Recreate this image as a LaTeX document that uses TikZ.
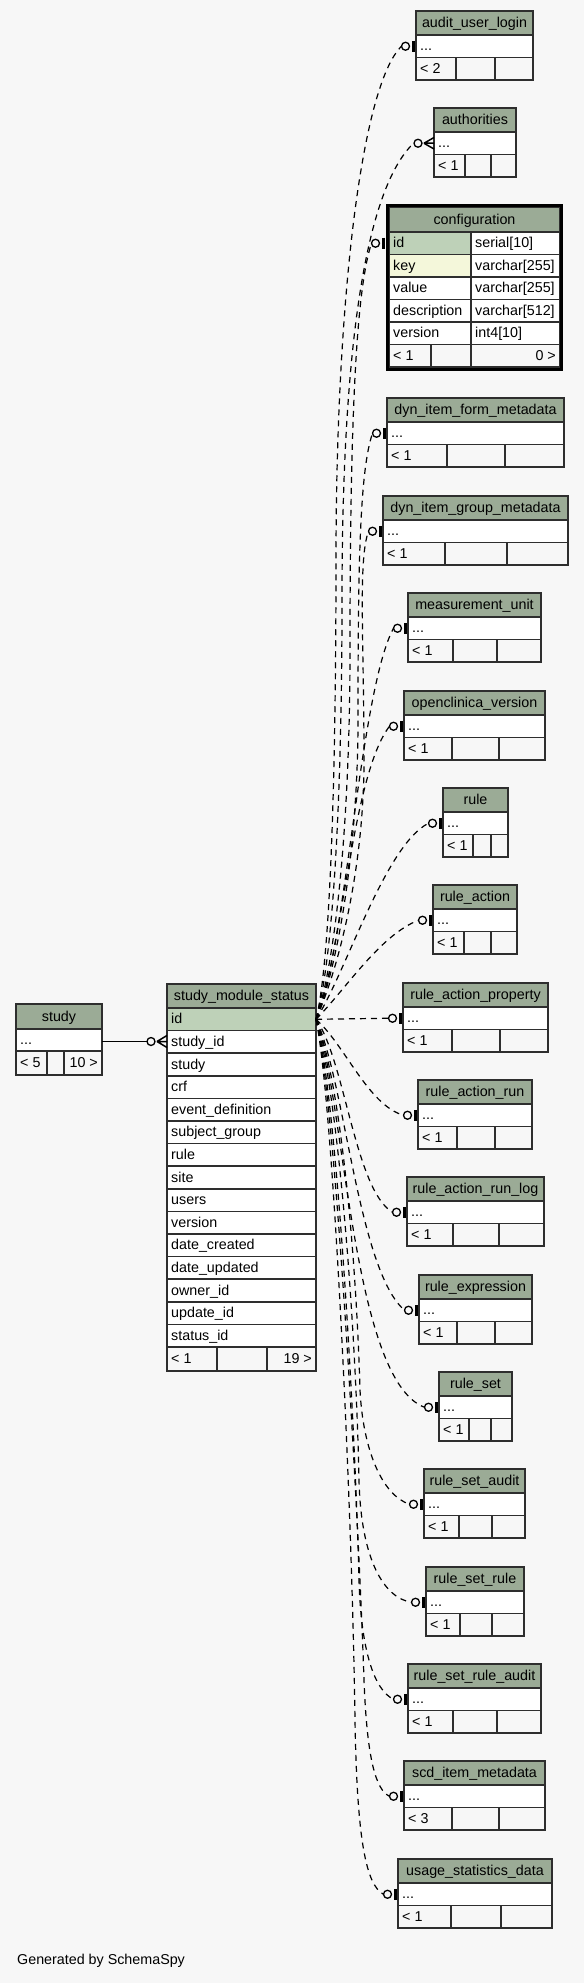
\documentclass[tikz,border=0pt]{standalone}
\usepackage{fontspec}
\setmainfont{Liberation Sans}
\usetikzlibrary{calc}
\definecolor{bg}{HTML}{F7F7F7}
\definecolor{hdr}{HTML}{9BAB96}
\definecolor{pk}{HTML}{BED1B8}
\definecolor{idx}{HTML}{F4F7DA}
\definecolor{bord}{HTML}{2E2E2E}
\tikzset{
 tline/.style={draw=bord, line width=1.6},
 txt/.style={font=\fontsize{14.3}{16}\selectfont, inner sep=0, text=black},
 rel/.style={draw=black, dash pattern=on 6pt off 5pt, line width=1.2},
 solidrel/.style={draw=black, line width=1.3},
 ocirc/.style={draw=black, fill=bg, line width=1.3},
 teebar/.style={line width=3, draw=black},
 crowline/.style={line width=1.5, draw=black},
}
% simple collapsed table: id, title, L, T, R, d1, d2, footer text
\newcommand\stbl[8]{%
 \pgfmathsetmacro\tHB{#4+24}\pgfmathsetmacro\tRB{#4+46.5}\pgfmathsetmacro\tFB{#4+69}%
 \pgfmathsetmacro\tHM{#4+12}\pgfmathsetmacro\tRM{#4+35.25}\pgfmathsetmacro\tFM{#4+57.75}%
 \pgfmathsetmacro\tC{(#3+#5)/2}%
 \fill[hdr] (#3,#4) rectangle (#5,\tHB);
 \fill[white] (#3,\tHB) rectangle (#5,\tRB);
 \draw[tline] (#3,#4) rectangle (#5,\tFB);
 \draw[tline] (#3,\tHB) -- (#5,\tHB) (#3,\tRB) -- (#5,\tRB) (#6,\tRB) -- (#6,\tFB) (#7,\tRB) -- (#7,\tFB);
 \node[txt, anchor=base] (#1-title) at (\tC,\tHM+4.5) {#2};
 \node[txt, anchor=base west] (#1-row) at (#3+4,\tRM+4.5) {...};
 \node[txt, anchor=base west] (#1-foot) at (#3+4,\tFM+4.5) {#8};
 \coordinate (#1-in) at (#3,\tRM);
 \coordinate (#1-end) at (#3-14.5,\tRM);
}
\newcommand\otee[1]{%
 \draw[ocirc] ($(#1-in)+(-10.5,0)$) circle[radius=4pt];
 \draw[teebar] ($(#1-in)+(-2.5,-5.5)$) -- ($(#1-in)+(-2.5,5.5)$);
}
\begin{document}
\begin{tikzpicture}[x=1pt,y=-1pt]
\fill[bg] (0,0) rectangle (584,1983);
\useasboundingbox (0,0) rectangle (584,1983);

% ---------- right-hand tables ----------
\stbl{aul}{audit\_user\_login}{416}{11}{533}{456}{495}{< 2}
\stbl{auth}{authorities}{434}{108}{516}{465}{491}{< 1}
\stbl{dynf}{dyn\_item\_form\_metadata}{387}{398}{564}{447}{505}{< 1}
\stbl{dyng}{dyn\_item\_group\_metadata}{383}{496}{568}{445}{507}{< 1}
\stbl{meas}{measurement\_unit}{408}{593}{541}{453}{497}{< 1}
\stbl{ocv}{openclinica\_version}{404}{691}{545}{452}{499}{< 1}
\stbl{rule}{rule}{443}{788}{508}{473}{491}{< 1}
\stbl{ra}{rule\_action}{433}{885}{517}{464}{491}{< 1}
\stbl{rap}{rule\_action\_property}{403}{983}{548}{452}{500}{< 1}
\stbl{rar}{rule\_action\_run}{418}{1080}{532}{457}{495}{< 1}
\stbl{rarl}{rule\_action\_run\_log}{407}{1177}{544}{453}{499}{< 1}
\stbl{rex}{rule\_expression}{419}{1275}{532}{457}{495}{< 1}
\stbl{rs}{rule\_set}{439}{1372}{512}{469}{491}{< 1}
\stbl{rsa}{rule\_set\_audit}{424}{1469}{525}{459}{492}{< 1}
\stbl{rsr}{rule\_set\_rule}{426}{1567}{524}{460}{492}{< 1}
\stbl{rsra}{rule\_set\_rule\_audit}{408}{1664}{541}{453}{497}{< 1}
\stbl{scd}{scd\_item\_metadata}{404}{1761}{545}{452}{499}{< 3}
\stbl{usd}{usage\_statistics\_data}{398}{1859}{552}{451}{501}{< 1}
\coordinate (auth-cend) at (413.5,143.25);

% ---------- configuration ----------
\fill[hdr] (389,207) rectangle (560,232);
\fill[white] (389,232) rectangle (560,344.5);
\fill[pk] (389,232) rectangle (471,254.5);
\fill[idx] (389,254.5) rectangle (471,277);
\draw[tline] (389,207) rectangle (560,367);
\foreach \yy in {232,254.5,277,299.5,322,344.5} \draw[tline] (389,\yy) -- (560,\yy);
\draw[tline] (471,232) -- (471,367) (431,344.5) -- (431,367);
\draw[line width=3, draw=black] (387.5,205.6) rectangle (561.5,369);
\node[txt, anchor=base] (cfg-title) at (474.5,224) {configuration};
\node[txt, anchor=base west] (cfg-n1) at (393,247.75) {id};
\node[txt, anchor=base west] (cfg-t1) at (475,247.75) {serial[10]};
\node[txt, anchor=base west] (cfg-n2) at (393,270.25) {key};
\node[txt, anchor=base west] (cfg-t2) at (475,270.25) {varchar[255]};
\node[txt, anchor=base west] (cfg-n3) at (393,292.75) {value};
\node[txt, anchor=base west] (cfg-t3) at (475,292.75) {varchar[255]};
\node[txt, anchor=base west] (cfg-n4) at (393,315.25) {description};
\node[txt, anchor=base west] (cfg-t4) at (475,315.25) {varchar[512]};
\node[txt, anchor=base west] (cfg-n5) at (393,337.75) {version};
\node[txt, anchor=base west] (cfg-t5) at (475,337.75) {int4[10]};
\node[txt, anchor=base west] (cfg-f1) at (393,360.25) {< 1};
\node[txt, anchor=base east] (cfg-f2) at (556,360.25) {0 >};
\coordinate (cfg-in) at (386,243.25);
\coordinate (cfg-end) at (371.5,243.25);

% ---------- study ----------
\fill[hdr] (16,1004) rectangle (102,1029);
\fill[white] (16,1029) rectangle (102,1051);
\draw[tline] (16,1004) rectangle (102,1075);
\draw[tline] (16,1029) -- (102,1029) (16,1051) -- (102,1051) (47,1051) -- (47,1075) (64,1051) -- (64,1075);
\node[txt, anchor=base] (study-title) at (59,1021) {study};
\node[txt, anchor=base west] (study-row) at (20,1044.5) {...};
\node[txt, anchor=base west] (study-f1) at (20,1067.5) {< 5};
\node[txt, anchor=base east] (study-f2) at (98,1067.5) {10 >};
\coordinate (study-out) at (102,1041.5);

% ---------- study_module_status ----------
\fill[hdr] (167,984) rectangle (316,1008);
\fill[white] (167,1008) rectangle (316,1347);
\fill[pk] (167,1008) rectangle (316,1030.6);
\draw[tline] (167,984) rectangle (316,1371);
\node[txt, anchor=base] (sms-title) at (241.5,1000.5) {study\_module\_status};
\foreach \t [count=\i from 0] in {id,study\_id,study,crf,event\_definition,subject\_group,rule,site,users,version,date\_created,date\_updated,owner\_id,update\_id,status\_id} {
  \pgfmathsetmacro\ya{1008+22.6*\i}
  \draw[tline] (167,\ya) -- (316,\ya);
  \node[txt, anchor=base west] (sms-r\i) at (171,\ya+15.8) {\t};
}
\draw[tline] (167,1347) -- (316,1347) (217,1347) -- (217,1371) (267,1347) -- (267,1371);
\node[txt, anchor=base west] (sms-f1) at (171,1363.5) {< 1};
\node[txt, anchor=base east] (sms-f2) at (312,1363.5) {19 >};
\coordinate (sms-out) at (316,1019.3);
\coordinate (smssid-in) at (167,1041.5);
\coordinate (smssid-end) at (147,1041.5);

% ---------- study -> study_module_status ----------
\draw[solidrel] (study-out) -- (smssid-end);
\draw[ocirc] (151,1041.5) circle[radius=4pt];
\draw[crowline] (157,1041.5) -- (167,1035.5) (157,1041.5) -- (167,1041.5) (157,1041.5) -- (167,1047.5);

% ---------- implied relationships ----------
\draw[rel] (sms-out) .. controls (331,960) and (336,760) .. (336,560) .. controls (336,303) and (361,86) .. (aul-end);
\draw[rel] (sms-out) .. controls (333,960) and (342,800) .. (342,600) .. controls (342,350) and (365,190) .. (auth-cend);
\draw[rel] (sms-out) .. controls (336,960) and (350,820) .. (350,650) .. controls (350,420) and (356,290) .. (cfg-end);
\draw[rel] (sms-out) .. controls (340,960) and (358,840) .. (358,720) .. controls (358,560) and (360,470) .. (dynf-end);
\draw[rel] (sms-out) .. controls (342,960) and (364,860) .. (364,760) .. controls (364,640) and (358,560) .. (dyng-end);
\draw[rel] (sms-out) .. controls (346,950) and (360,690) .. (meas-end);
\draw[rel] (sms-out) .. controls (343,950) and (352,775) .. (ocv-end);
\draw[rel] (sms-out) .. controls (345,975) and (385,845) .. (rule-end);
\draw[rel] (sms-out) .. controls (345,990) and (380,935) .. (ra-end);
\draw[rel] (sms-out) -- (rap-end);
\draw[rel] (sms-out) .. controls (345,1045) and (368,1105) .. (rar-end);
\draw[rel] (sms-out) .. controls (345,1060) and (355,1190) .. (rarl-end);
\draw[rel] (sms-out) .. controls (345,1080) and (358,1270) .. (rex-end);
\draw[rel] (sms-out) .. controls (345,1100) and (352,1380) .. (rs-end);
\draw[rel] (sms-out) .. controls (340,1080) and (356,1250) .. (360,1390) .. controls (363,1450) and (382,1495) .. (rsa-end);
\draw[rel] (sms-out) .. controls (339,1100) and (356,1330) .. (359,1480) .. controls (361,1560) and (384,1598) .. (rsr-end);
\draw[rel] (sms-out) .. controls (337,1100) and (355,1420) .. (359,1580) .. controls (361,1650) and (374,1690) .. (rsra-end);
\draw[rel] (sms-out) .. controls (335,1100) and (358,1500) .. (364,1680) .. controls (367,1760) and (376,1790) .. (scd-end);
\draw[rel] (sms-out) .. controls (333,1100) and (352,1500) .. (355,1720) .. controls (357,1840) and (366,1885) .. (usd-end);

% ---------- end markers ----------
\foreach \k in {aul,dynf,dyng,meas,ocv,rule,ra,rap,rar,rarl,rex,rs,rsa,rsr,rsra,scd,usd} {\otee{\k}}
\draw[ocirc] (375.5,243.25) circle[radius=4pt];
\draw[teebar] (383.5,237.5) -- (383.5,249);
\draw[ocirc] (418,143.25) circle[radius=4pt];
\draw[crowline] (424,143.25) -- (434,137.5) (424,143.25) -- (434,143.25) (424,143.25) -- (434,149);

\node[txt, anchor=base west] (gen) at (17,1964) {Generated by SchemaSpy};
\end{tikzpicture}
\end{document}
